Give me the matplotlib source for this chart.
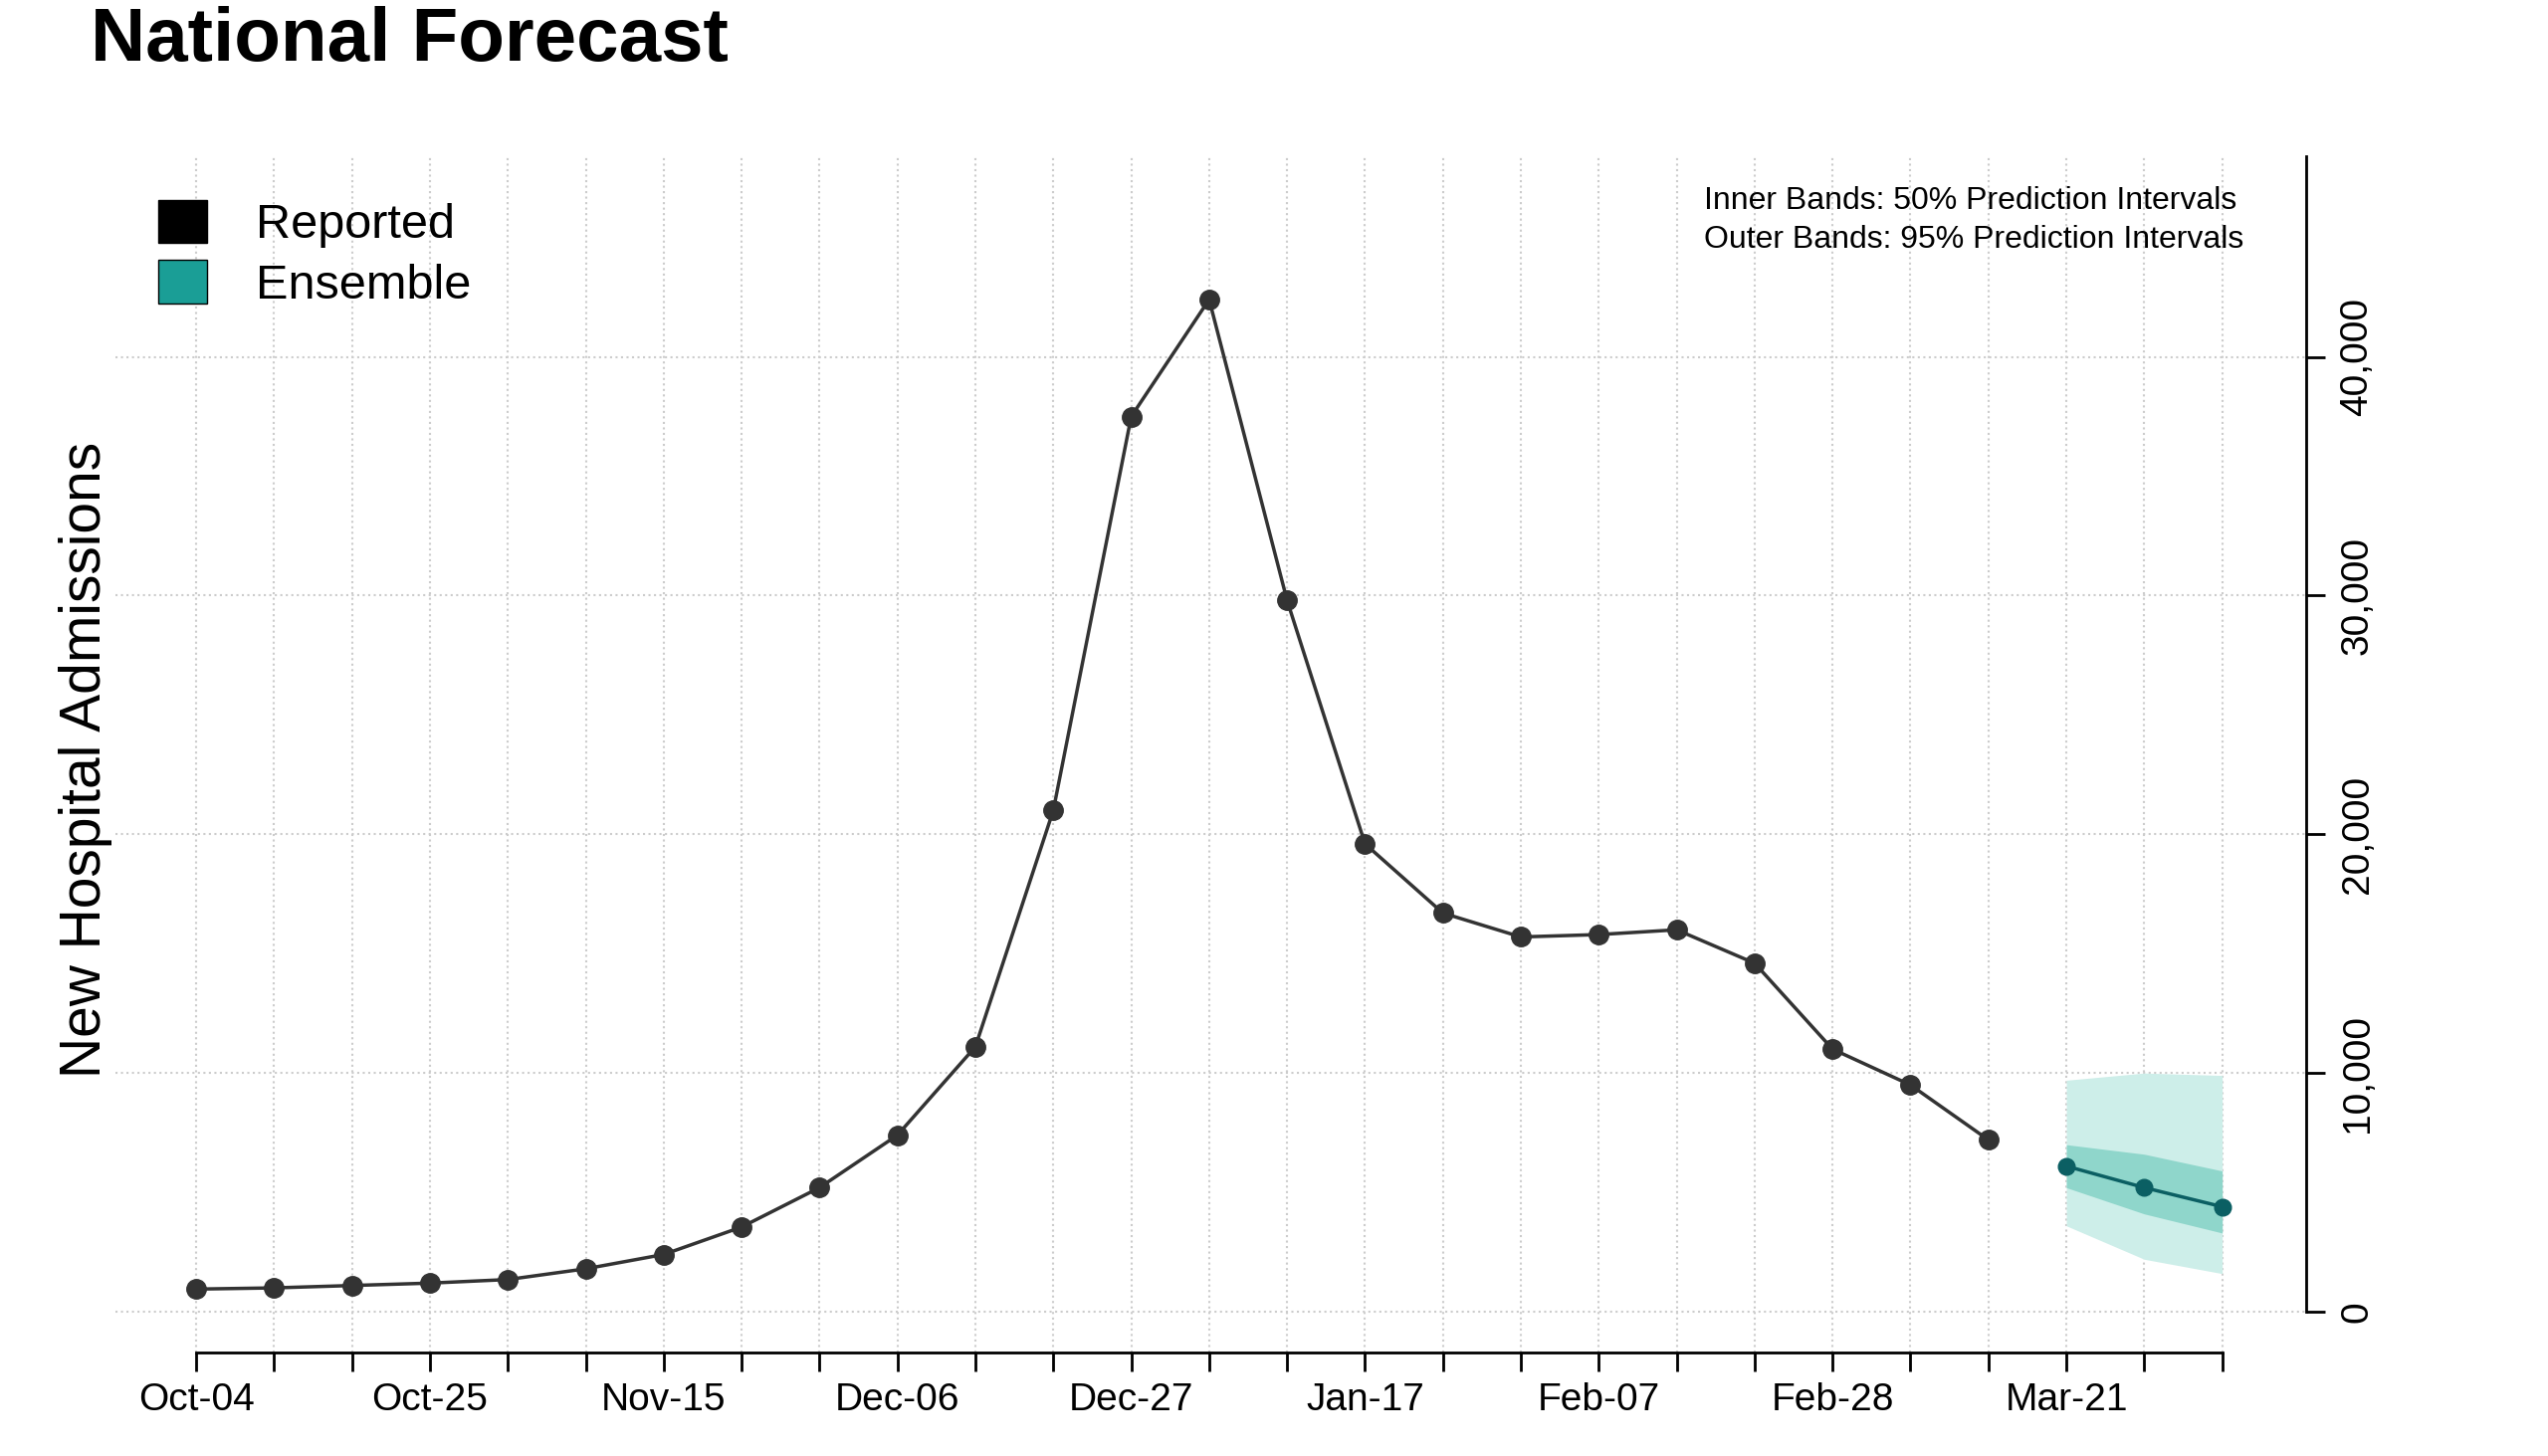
import matplotlib
matplotlib.use("Agg")
import matplotlib.pyplot as plt
from matplotlib.patches import Patch

tick_labels = ["Oct-04","","","Oct-25","","","Nov-15","","","Dec-06","","","Dec-27","","","Jan-17","","","Feb-07","","","Feb-28","","","Mar-21","",""]
reported = [950, 1000, 1100, 1200, 1350, 1800, 2400, 3550, 5200, 7400, 11100, 21000, 37500, 42400,
            29800, 19600, 16700, 15700, 15800, 16000, 14600, 11000, 9500, 7200]
fc_median = [6100, 5200, 4400]
fc_lo50 = [5200, 4100, 3300]
fc_hi50 = [7000, 6600, 5900]
fc_lo95 = [3600, 2200, 1600]
fc_hi95 = [9700, 10000, 9900]

plt.rcParams['font.family'] = ['Liberation Sans', 'DejaVu Sans']
fig = plt.figure(figsize=(25.6, 14.63), dpi=100)
ax = fig.add_axes([70/1550, 1-822/885, 1333/1550, 727/885])

xr = list(range(len(reported)))
xf = list(range(len(reported), len(reported) + len(fc_median)))
ax.fill_between(xf, fc_lo95, fc_hi95, color="#cdeee9", lw=0, zorder=1)
ax.fill_between(xf, fc_lo50, fc_hi50, color="#8fd6cb", lw=0, zorder=2)
ax.plot(xr, reported, color="#333333", lw=2.5, marker="o", ms=14, zorder=3)
ax.plot(xf, fc_median, color="#0b5f63", lw=2.5, marker="o", ms=12, zorder=4)

n = len(tick_labels)
ax.set_xlim(-1.04, 27.08)
ax.set_ylim(-1700, 48400)
for i in range(n):
    ax.axvline(i, color="#cccccc", ls=":", lw=1.5, zorder=0)
for v in range(0, 50000, 10000):
    ax.axhline(v, color="#cccccc", ls=":", lw=1.5, zorder=0)

ax.set_xticks(range(n))
ax.set_xticklabels(tick_labels, fontsize=28)
ax.yaxis.tick_right()
ax.set_yticks(range(0, 50000, 10000))
ax.set_yticklabels([f"{v:,}" for v in range(0, 50000, 10000)], rotation=90, va="center", fontsize=28)
ax.tick_params(axis="both", length=14, width=2)
ax.tick_params(axis="y", pad=10)
ax.tick_params(axis="x", pad=8)
for s in ["left", "top"]:
    ax.spines[s].set_visible(False)
ax.spines["bottom"].set_bounds(0, n - 1)
ax.spines["right"].set_bounds(0, 48400)
ax.spines["bottom"].set_linewidth(2)
ax.spines["right"].set_linewidth(2)

fig.text(55/1550, 1-25/885, "National Forecast", fontsize=55, fontweight="bold", va="center")
fig.text(52/1550, 1-462/885, "New Hospital Admissions", fontsize=41, rotation=90, va="center", ha="center")
ax.text(0.725, 0.975, "Inner Bands: 50% Prediction Intervals\nOuter Bands: 95% Prediction Intervals",
        transform=ax.transAxes, fontsize=23, va="top", linespacing=1.4)
handles = [Patch(facecolor="black", edgecolor="black", label="Reported"),
           Patch(facecolor="#1a9e96", edgecolor="black", label="Ensemble")]
ax.legend(handles=handles, loc="upper left", bbox_to_anchor=(0.0, 1.0), frameon=False,
          fontsize=35, handlelength=1.0, handleheight=1.0, labelspacing=0.25, handletextpad=1.0)
fig.savefig("out.png", dpi=100)
